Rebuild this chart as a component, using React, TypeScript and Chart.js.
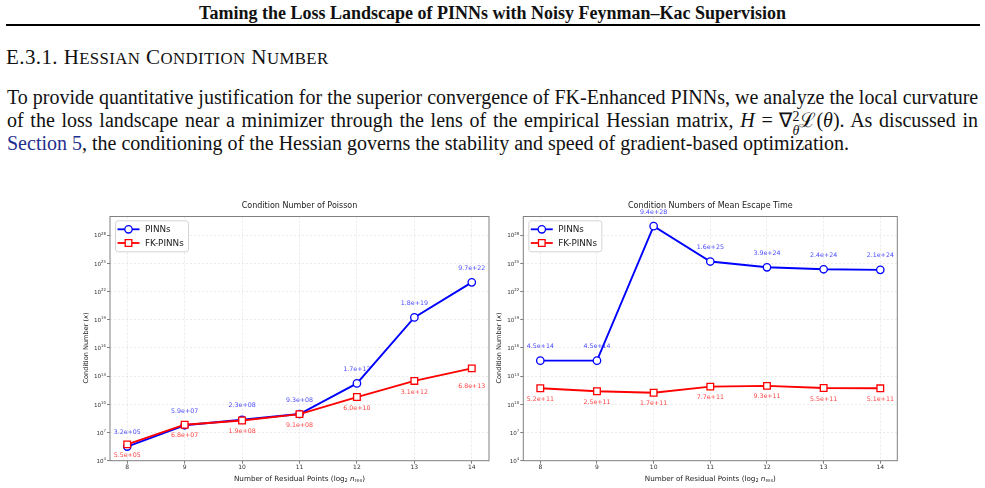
import React, { useEffect, useRef } from 'react';
import { Chart, registerables } from 'chart.js';

Chart.register(...registerables);

// x positions: log2 of the number of residual points
const residualLog2 = [8, 9, 10, 11, 12, 13, 14];

// Poisson problem: Hessian condition numbers
const poissonPinns = [3.2e5, 5.9e7, 2.3e8, 9.3e8, 1.7e12, 1.8e19, 9.7e22];
const poissonFk = [5.5e5, 6.8e7, 1.9e8, 9.1e8, 6.0e10, 3.1e12, 6.8e13];

// Mean escape time problem: Hessian condition numbers
const escapePinns = [4.5e14, 4.5e14, 9.4e28, 1.6e25, 3.9e24, 2.4e24, 2.1e24];
const escapeFk = [5.2e11, 2.5e11, 1.7e11, 7.7e11, 9.3e11, 5.5e11, 5.1e11];

// decades shown on the y axis
const yTickExponents = [4, 7, 10, 13, 16, 19, 22, 25, 28];
const seriesNames = ['PINNs', 'FK-PINNs'];

const SANS = '"DejaVu Sans", sans-serif';
const BLUE = '#0000ff';
const RED = '#ff0000';
const LABEL_COLORS = ['rgba(40,40,255,0.85)', 'rgba(255,30,30,0.85)'];

function fmtSci(v: number): string {
  const [m, e] = v.toExponential(1).split('e');
  const sign = e[0] === '-' ? '-' : '+';
  const digits = e.replace(/[+-]/, '').padStart(2, '0');
  return `${m}e${sign}${digits}`;
}

type Piece = { t: string; size: number; italic?: boolean; dy?: number };

function drawPieces(ctx: CanvasRenderingContext2D, pieces: Piece[], cx: number, cy: number) {
  let total = 0;
  for (const p of pieces) {
    ctx.font = `${p.italic ? 'italic ' : ''}${p.size}px ${SANS}`;
    total += ctx.measureText(p.t).width;
  }
  let x = cx - total / 2;
  ctx.textAlign = 'left';
  ctx.textBaseline = 'alphabetic';
  for (const p of pieces) {
    ctx.font = `${p.italic ? 'italic ' : ''}${p.size}px ${SANS}`;
    ctx.fillText(p.t, x, cy + (p.dy || 0));
    x += ctx.measureText(p.t).width;
  }
}

function drawMarker(ctx: CanvasRenderingContext2D, kind: number, x: number, y: number) {
  ctx.save();
  ctx.lineWidth = 1.3;
  ctx.fillStyle = '#fff';
  ctx.strokeStyle = kind === 0 ? BLUE : RED;
  ctx.beginPath();
  if (kind === 0) {
    ctx.arc(x, y, 3.7, 0, Math.PI * 2);
  } else {
    ctx.rect(x - 3.3, y - 3.3, 6.6, 6.6);
  }
  ctx.fill();
  ctx.stroke();
  ctx.restore();
}

const decorPlugin = {
  id: 'decor',
  afterDatasetsDraw(chart: any, _args: any, opts: any) {
    const { ctx, chartArea: a } = chart;
    ctx.save();
    // axes frame
    ctx.strokeStyle = '#808080';
    ctx.lineWidth = 1;
    ctx.strokeRect(a.left, a.top, a.right - a.left, a.bottom - a.top);

    // value annotations
    ctx.font = `6.3px ${SANS}`;
    ctx.textAlign = 'center';
    ctx.textBaseline = 'middle';
    chart.data.datasets.forEach((ds: any, di: number) => {
      const meta = chart.getDatasetMeta(di);
      ctx.fillStyle = LABEL_COLORS[di];
      meta.data.forEach((pt: any, i: number) => {
        const v = ds.data[i].y;
        const extra = (opts.labelShift && opts.labelShift[di] && opts.labelShift[di][i]) || 0;
        const dy = (di === 0 ? -14 : 11) + extra;
        ctx.fillText(fmtSci(v), pt.x, pt.y + dy);
      });
    });
    ctx.restore();
  },
  afterDraw(chart: any, _args: any, opts: any) {
    const { ctx, chartArea: a } = chart;
    const yScale = chart.scales.y;
    const cx = (a.left + a.right) / 2;
    ctx.save();
    ctx.fillStyle = '#222';

    // title
    ctx.font = `8px ${SANS}`;
    ctx.textAlign = 'center';
    ctx.textBaseline = 'middle';
    ctx.fillText(opts.title, cx, opts.titleY);

    // y tick labels 10^n
    for (const e of yTickExponents) {
      const y = yScale.getPixelForValue(Math.pow(10, e));
      const xr = a.left - 4;
      ctx.font = `3.9px ${SANS}`;
      const ew = ctx.measureText(String(e)).width;
      ctx.textAlign = 'left';
      ctx.textBaseline = 'alphabetic';
      ctx.fillStyle = '#333';
      ctx.fillText(String(e), xr - ew, y - 0.6);
      ctx.font = `5.6px ${SANS}`;
      ctx.textAlign = 'right';
      ctx.fillText('10', xr - ew, y + 2.2);
    }

    // x axis title
    ctx.fillStyle = '#222';
    drawPieces(
      ctx,
      [
        { t: 'Number of Residual Points (log', size: 7.2 },
        { t: '2', size: 5, dy: 1.6 },
        { t: ' ', size: 7.2 },
        { t: 'n', size: 7.2, italic: true },
        { t: 'res', size: 5, dy: 1.6 },
        { t: ')', size: 7.2 },
      ],
      cx,
      opts.xTitleY + 2.5
    );

    // y axis title
    ctx.save();
    ctx.translate(opts.yTitleX, opts.yTitleY);
    ctx.rotate(-Math.PI / 2);
    drawPieces(
      ctx,
      [
        { t: 'Condition Number (', size: 6.6 },
        { t: 'κ', size: 6.6, italic: true },
        { t: ')', size: 6.6 },
      ],
      0,
      2.3
    );
    ctx.restore();

    // legend
    const bx = a.left + 5;
    const by = a.top + 3.8;
    const bw = 73;
    const bh = 31;
    ctx.beginPath();
    ctx.roundRect(bx + 0.5, by + 0.5, bw, bh, 2.5);
    ctx.fillStyle = 'rgba(255,255,255,0.85)';
    ctx.fill();
    ctx.strokeStyle = '#d4d4d4';
    ctx.lineWidth = 1;
    ctx.stroke();
    seriesNames.forEach((name, i) => {
      const ry = by + 9 + i * 13.7;
      ctx.strokeStyle = i === 0 ? BLUE : RED;
      ctx.lineWidth = 1.8;
      ctx.beginPath();
      ctx.moveTo(bx + 2.5, ry);
      ctx.lineTo(bx + 24.5, ry);
      ctx.stroke();
      drawMarker(ctx, i, bx + 13.5, ry);
      ctx.fillStyle = '#222';
      ctx.font = `8.8px ${SANS}`;
      ctx.textAlign = 'left';
      ctx.textBaseline = 'middle';
      ctx.fillText(name, bx + 30, ry + 0.5);
    });
    ctx.restore();
  },
};

type PanelSpec = {
  title: string;
  pinns: number[];
  fk: number[];
  yAxisWidth: number;
  padRight: number;
  yTitleX: number;
  labelShift?: Record<number, Record<number, number>>;
};

function buildConfig(spec: PanelSpec): any {
  const gridStyle = {
    color: 'rgba(0,0,0,0.1)',
    lineWidth: 0.8,
    tickLength: 3,
    tickColor: '#808080',
    tickWidth: 1,
  };
  return {
    type: 'line',
    data: {
      datasets: [
        {
          label: seriesNames[0],
          data: residualLog2.map((x, i) => ({ x, y: spec.pinns[i] })),
          borderColor: BLUE,
          backgroundColor: '#fff',
          borderWidth: 1.9,
          pointStyle: 'circle',
          pointRadius: 3.7,
          pointBorderWidth: 1.3,
          pointBackgroundColor: '#fff',
          pointBorderColor: BLUE,
          order: 1,
          clip: false,
        },
        {
          label: seriesNames[1],
          data: residualLog2.map((x, i) => ({ x, y: spec.fk[i] })),
          borderColor: RED,
          backgroundColor: '#fff',
          borderWidth: 1.9,
          pointStyle: 'rect',
          pointRadius: 4.7,
          pointBorderWidth: 1.3,
          pointBackgroundColor: '#fff',
          pointBorderColor: RED,
          order: 0,
          clip: false,
        },
      ],
    },
    options: {
      responsive: false,
      animation: false,
      devicePixelRatio: 1,
      events: [],
      layout: { padding: { left: 0, right: spec.padRight, top: 21.5, bottom: 0 } },
      plugins: {
        legend: { display: false },
        title: { display: false },
        tooltip: { enabled: false },
        decor: {
          title: spec.title,
          titleY: 10.7,
          xTitleY: 283.3,
          yTitleX: spec.yTitleX,
          yTitleY: 153,
          labelShift: spec.labelShift,
        },
      },
      scales: {
        x: {
          type: 'linear',
          min: 7.7,
          max: 14.3,
          afterBuildTicks: (s: any) => {
            s.ticks = residualLog2.map((v) => ({ value: v }));
          },
          afterFit: (s: any) => {
            s.height = 24.3;
          },
          grid: gridStyle,
          border: { display: false, dash: [2.2, 1.8] },
          ticks: {
            font: { family: SANS, size: 6 },
            color: '#333',
            padding: 0.5,
            maxRotation: 0,
            autoSkip: false,
          },
        },
        y: {
          type: 'logarithmic',
          min: 1e4,
          max: 1e30,
          afterBuildTicks: (s: any) => {
            s.ticks = yTickExponents.map((e) => ({ value: Math.pow(10, e) }));
          },
          afterFit: (s: any) => {
            s.width = spec.yAxisWidth;
          },
          grid: gridStyle,
          border: { display: false, dash: [2.2, 1.8] },
          ticks: { display: false },
        },
      },
    },
    plugins: [decorPlugin],
  };
}

function ConditionPanel(props: { left: number; top: number; width: number; height: number; spec: PanelSpec }) {
  const ref = useRef<HTMLCanvasElement>(null);
  useEffect(() => {
    const chart = new Chart(ref.current as HTMLCanvasElement, buildConfig(props.spec));
    return () => chart.destroy();
  }, []);
  return (
    <canvas
      ref={ref}
      width={props.width}
      height={props.height}
      style={{ position: 'absolute', left: props.left, top: props.top, width: props.width, height: props.height }}
    />
  );
}

const SERIF = '"Liberation Serif", "Times New Roman", serif';

const lineStyle = (top: number): React.CSSProperties => ({
  position: 'absolute',
  left: 7,
  top,
  width: 971,
  fontSize: 20,
  lineHeight: '24px',
  textAlign: 'justify',
  textAlignLast: 'justify',
  whiteSpace: 'nowrap',
});

const smallCap: React.CSSProperties = { fontSize: '0.8em' };

export default function App() {
  return (
    <div
      style={{
        position: 'absolute',
        left: 0,
        top: 0,
        width: 985,
        height: 488,
        background: '#fff',
        color: '#111',
        fontFamily: SERIF,
        overflow: 'hidden',
      }}
    >
      <div
        style={{
          position: 'absolute',
          left: 0,
          top: 3.2,
          width: 985,
          textAlign: 'center',
          fontWeight: 'bold',
          fontSize: 18,
          lineHeight: '20px',
        }}
      >
        Taming the Loss Landscape of PINNs with Noisy Feynman–Kac Supervision
      </div>
      <div style={{ position: 'absolute', left: 6, top: 24, width: 974, height: 2, background: '#000' }} />
      <div
        style={{
          position: 'absolute',
          left: 6,
          top: 45,
          fontSize: 21,
          lineHeight: '24px',
          letterSpacing: 0.4,
          whiteSpace: 'nowrap',
        }}
      >
        E.3.1. H<span style={smallCap}>ESSIAN</span> C<span style={smallCap}>ONDITION</span> N
        <span style={smallCap}>UMBER</span>
      </div>
      <div style={lineStyle(84.6)}>
        To provide quantitative justification for the superior convergence of FK-Enhanced PINNs, we analyze the local curvature
      </div>
      <div style={lineStyle(108)}>
        of the loss landscape near a minimizer through the lens of the empirical Hessian matrix, <i>H</i> = ∇
        <span
          style={{
            display: 'inline-flex',
            flexDirection: 'column',
            verticalAlign: '0.4em',
            fontSize: '0.7em',
            lineHeight: '0.95em',
          }}
        >
          <span>2</span>
          <i>θ</i>
        </span>
        ℒ(<i>θ</i>). As discussed in
      </div>
      <div style={{ ...lineStyle(131.3), textAlign: 'left', textAlignLast: 'left' }}>
        <span style={{ color: '#1f2f8f' }}>Section 5</span>, the conditioning of the Hessian governs the stability and
        speed of gradient-based optimization.
      </div>
      <ConditionPanel
        left={80}
        top={195}
        width={415}
        height={290}
        spec={{
          title: 'Condition Number of Poisson',
          pinns: poissonPinns,
          fk: poissonFk,
          yAxisWidth: 30,
          padRight: 5.7,
          yTitleX: 6,
          labelShift: { 1: { 6: 7.5 } },
        }}
      />
      <ConditionPanel
        left={490}
        top={195}
        width={420}
        height={290}
        spec={{
          title: 'Condition Numbers of Mean Escape Time',
          pinns: escapePinns,
          fk: escapeFk,
          yAxisWidth: 33.3,
          padRight: 12.7,
          yTitleX: 8.3,
        }}
      />
    </div>
  );
}
